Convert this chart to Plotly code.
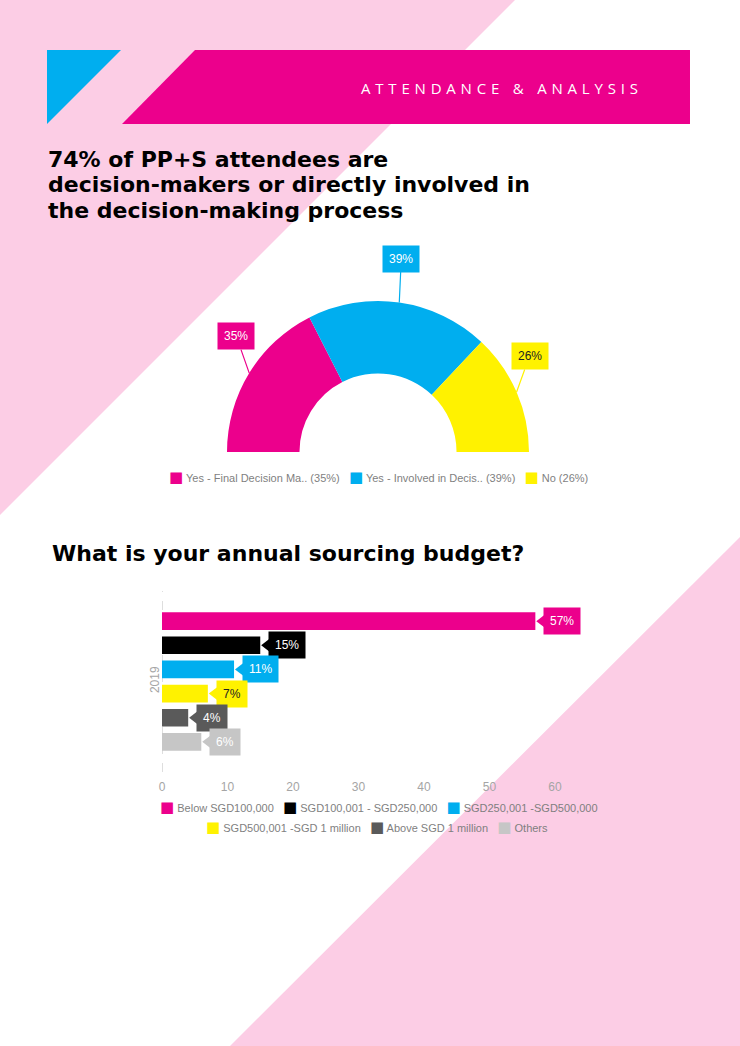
import math
import plotly.graph_objects as go

W, H = 740, 1046

# ---------------- data ----------------
header_text = "ATTENDANCE & ANALYSIS"
title1_lines = ["74% of PP+S attendees are",
                "decision-makers or directly involved in",
                "the decision-making process"]
title2 = "What is your annual sourcing budget?"

donut_labels = ["Yes - Final Decision Ma..", "Yes - Involved in Decis..", "No"]
donut_values = [35, 39, 26]
donut_colors = ["#EC008C", "#00AEEF", "#FFF200"]
donut_text_colors = ["#FFFFFF", "#FFFFFF", "#222222"]

budget_categories = ["Below SGD100,000", "SGD100,001 - SGD250,000", "SGD250,001 -SGD500,000",
                     "SGD500,001 -SGD 1 million", "Above SGD 1 million", "Others"]
budget_values = [57, 15, 11, 7, 4, 6]
budget_colors = ["#EC008C", "#000000", "#00AEEF", "#FFF200", "#5A5A5A", "#C6C6C6"]
budget_text_colors = ["#FFFFFF", "#FFFFFF", "#FFFFFF", "#222222", "#FFFFFF", "#FFFFFF"]
year_labels = ["2019"]
x_ticks = [0, 10, 20, 30, 40, 50, 60]

# ---------------- helpers ----------------
PINK = "#FCCDE5"
MAGENTA = "#EC008C"
CYAN = "#00AEEF"
GRAY_TXT = "#7F7F7F"
TICK_TXT = "#A5A5A5"


def fx(x):
    return x / W


def fy(y):
    return 1 - y / H


def path(points):
    return "M " + " L ".join(f"{fx(x):.5f},{fy(y):.5f}" for x, y in points) + " Z"


fig = go.Figure()
shapes = []
annotations = []

# background decoration
shapes.append(dict(type="path", path=path([(0, 0), (515, 0), (0, 515)]), xref="paper", yref="paper",
                   fillcolor=PINK, line=dict(width=0), layer="below"))
shapes.append(dict(type="path", path=path([(740, 537), (740, 1046), (230, 1046)]), xref="paper", yref="paper",
                   fillcolor=PINK, line=dict(width=0), layer="below"))
# header
shapes.append(dict(type="path", path=path([(47, 50), (121, 50), (47, 124)]), xref="paper", yref="paper",
                   fillcolor=CYAN, line=dict(width=0), layer="below"))
shapes.append(dict(type="path", path=path([(122, 124), (195, 50), (690, 50), (690, 124)]), xref="paper",
                   yref="paper", fillcolor=MAGENTA, line=dict(width=0), layer="below"))
annotations.append(dict(x=fx(502), y=fy(88), xref="paper", yref="paper", showarrow=False,
                        text=f"<span style='letter-spacing:4.8px'>{header_text}</span>",
                        font=dict(family="Open Sans", size=15, color="white"),
                        xanchor="center", yanchor="middle"))

# titles
for i, line in enumerate(title1_lines):
    annotations.append(dict(x=fx(46), y=fy(160 + 25 * i), xref="paper", yref="paper", showarrow=False,
                            text=f"<b>{line}</b>", font=dict(family="DejaVu Sans", size=22, color="black"),
                            xanchor="left", yanchor="middle"))
annotations.append(dict(x=fx(50), y=fy(553), xref="paper", yref="paper", showarrow=False,
                        text=f"<b>{title2}</b>", font=dict(family="DejaVu Sans", size=22, color="black"),
                        xanchor="left", yanchor="middle"))

# ---------------- half donut ----------------
cx, cy, R = 378, 452, 151
total = sum(donut_values)
fig.add_trace(go.Pie(
    values=donut_values + [total],
    labels=donut_labels + [""],
    marker=dict(colors=donut_colors + ["rgba(0,0,0,0)"], line=dict(width=0)),
    sort=False, direction="clockwise", rotation=-90, hole=0.52,
    textinfo="none", hoverinfo="skip", showlegend=False, automargin=False,
    domain=dict(x=[fx(cx - R), fx(cx + R)], y=[fy(cy + R), fy(cy - R)]),
))

callout_offsets = [(-13, -37), (2, -44), (13, -36)]
cum = 0
for v, col, tcol, (dx, dy) in zip(donut_values, donut_colors, donut_text_colors, callout_offsets):
    mid = cum + v / 2
    cum += v
    ang = math.radians(180 - mid / total * 180)
    px_ = cx + R * math.cos(ang)
    py_ = cy - R * math.sin(ang)
    annotations.append(dict(x=fx(px_), y=fy(py_), xref="paper", yref="paper", ax=dx, ay=dy,
                            showarrow=True, arrowhead=0, arrowwidth=1.2, arrowcolor=col,
                            text=f"{v}%", bgcolor=col, borderpad=6,
                            font=dict(family="Liberation Sans", size=12, color=tcol)))

# donut legend
legend1 = "   ".join(
    f"<span style='color:{c};font-size:15px;font-family:DejaVu Sans'>■</span> {lab} ({v}%)"
    for lab, v, c in zip(donut_labels, donut_values, donut_colors))
annotations.append(dict(x=fx(378), y=fy(477), xref="paper", yref="paper", showarrow=False, text=legend1,
                        font=dict(family="Liberation Sans", size=11, color=GRAY_TXT),
                        xanchor="center", yanchor="middle"))

# ---------------- bar chart ----------------
n = len(budget_values)
for name, v, c in zip(budget_categories, budget_values, budget_colors):
    fig.add_trace(go.Bar(x=[v], y=[0], orientation="h", name=name, marker=dict(color=c, line=dict(width=0)),
                         showlegend=False, hoverinfo="skip", xaxis="x", yaxis="y"))

x_px_per_unit = 6.55
x_max = 65
group_w = 0.8
slot = group_w / n
bar_pos = [-group_w / 2 + slot * (i + 0.5) for i in range(n)]

# callout pointers (triangle tip sits at the bar end)
ptr_size = 12
ptr_tip = (ptr_size / 2) * 2 / math.sqrt(3)
fig.add_trace(go.Scatter(x=[v + ptr_tip / x_px_per_unit for v in budget_values], y=bar_pos, mode="markers",
                         xaxis="x", yaxis="y", cliponaxis=False,
                         marker=dict(symbol="triangle-left", size=ptr_size, color=budget_colors, line=dict(width=0)),
                         showlegend=False, hoverinfo="skip"))
for v, p, c, tc in zip(budget_values, bar_pos, budget_colors, budget_text_colors):
    annotations.append(dict(x=v, y=p, xref="x", yref="y", showarrow=False, text=f"{v}%",
                            xanchor="left", yanchor="middle", xshift=8, bgcolor=c, borderpad=6,
                            font=dict(family="Liberation Sans", size=12, color=tc)))

# dashed axis line
bar_top, bar_bottom = 591, 772
shapes.append(dict(type="line", xref="x", yref="paper", x0=0, x1=0, y0=fy(bar_bottom), y1=fy(bar_top),
                   line=dict(color="#BDBDBD", width=1, dash="dash"), layer="below"))


# bar legends (two rows)
def legend_row(names, colors):
    return "   ".join(
        f"<span style='color:{c};font-size:15px;font-family:DejaVu Sans'>■</span> {nm}"
        for nm, c in zip(names, colors))


annotations.append(dict(x=fx(379), y=fy(807), xref="paper", yref="paper", showarrow=False,
                        text=legend_row(budget_categories[:3], budget_colors[:3]),
                        font=dict(family="Liberation Sans", size=11, color=GRAY_TXT),
                        xanchor="center", yanchor="middle"))
annotations.append(dict(x=fx(377), y=fy(827), xref="paper", yref="paper", showarrow=False,
                        text=legend_row(budget_categories[3:], budget_colors[3:]),
                        font=dict(family="Liberation Sans", size=11, color=GRAY_TXT),
                        xanchor="center", yanchor="middle"))

fig.update_layout(
    width=W, height=H, autosize=False,
    margin=dict(l=0, r=0, t=0, b=0, pad=0, autoexpand=False),
    paper_bgcolor="white", plot_bgcolor="rgba(0,0,0,0)",
    barmode="group", bargap=0.2, bargroupgap=0.27,
    showlegend=False,
    xaxis=dict(domain=[fx(162), fx(162 + x_max * x_px_per_unit)], range=[0, x_max], tickvals=x_ticks,
               showgrid=False, zeroline=False, showline=False, ticks="", ticklabelstandoff=6,
               automargin=False,
               tickfont=dict(family="Liberation Sans", size=12, color=TICK_TXT), anchor="y",
               fixedrange=True),
    yaxis=dict(domain=[fy(bar_bottom), fy(bar_top)], range=[0.5, -0.5], tickvals=[0], ticktext=year_labels,
               tickangle=-90, showgrid=False, zeroline=False, showline=False, ticks="",
               automargin=False,
               tickfont=dict(family="Liberation Sans", size=12, color=TICK_TXT), anchor="x",
               fixedrange=True),
    shapes=shapes,
    annotations=annotations,
    font=dict(family="Liberation Sans"),
)

fig.write_html("out.html", config={"displayModeBar": False},
               post_script="document.body.style.margin='0';document.body.style.overflow='hidden';")
